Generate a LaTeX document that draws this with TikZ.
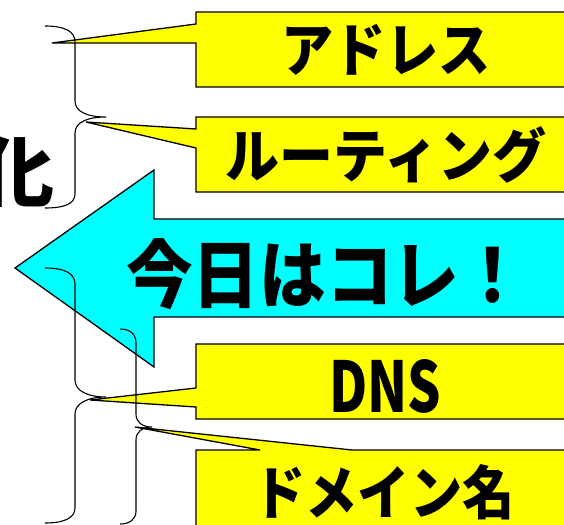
\documentclass[tikz,border=0pt]{standalone}
\usepackage{fontspec}
\usepackage{graphicx}
\newfontfamily\jp{Noto Sans CJK JP}
\definecolor{cyanfill}{RGB}{0,255,255}
\definecolor{yellowfill}{RGB}{255,255,0}
\tikzset{
  callout/.style={fill=yellowfill,draw=black,line width=1.3pt,line join=miter},
  bigarrow/.style={fill=cyanfill,draw=black,line width=1.3pt,line join=miter},
  bracepath/.style={draw=black,line width=1.1pt},
  jptext/.style={inner sep=0pt,font=\jp\bfseries},
}
\begin{document}
\begin{tikzpicture}[x=1pt,y=-1pt]
\useasboundingbox (0,0) rectangle (564,524);
\clip (0,0) rectangle (564,524);
% left cut-off text
\node[jptext,anchor=east] (ka) at (55,172) {\fontsize{76}{76}\selectfont 化};
% callout boxes
\path[callout] (196,12) -- (600,12) -- (600,87) -- (196,87) -- (196,43) -- (52,43) -- (196,24) -- cycle;
\path[callout] (196,117) -- (600,117) -- (600,192) -- (196,192) -- (196,148) -- (86,122) -- (196,129) -- cycle;
\path[callout] (196,344) -- (600,344) -- (600,419) -- (196,419) -- (196,407) -- (90,400) -- (196,388) -- cycle;
\path[callout] (196,450) -- (260,450) -- (135,427) -- (352,450) -- (600,450) -- (600,560) -- (196,560) -- cycle;
% cyan arrow
\path[bigarrow] (15,268) -- (154,170) -- (154,219) -- (600,219) -- (600,317) -- (154,317) -- (154,367) -- cycle;
% texts
\node[jptext] (addr) at (386,50) {\fontsize{58}{58}\selectfont\scalebox{0.9}[1]{アドレス}};
\node[jptext] (rout) at (386,155) {\fontsize{58}{58}\selectfont\scalebox{0.93}[1]{ルーティング}};
\node[jptext] (today) at (326,274) {\fontsize{74}{74}\selectfont\scalebox{0.9}[1]{今日はコレ！}};
\node[jptext] (dns) at (385,386) {\fontsize{70}{70}\selectfont\scalebox{0.75}[1]{DNS}};
\node[jptext] (dom) at (384,492) {\fontsize{58}{58}\selectfont\scalebox{0.9}[1]{ドメイン名}};
% braces
\path[bracepath] (45,26) .. controls (64,26) and (75,31) .. (75,42) -- (75,101) .. controls (75,112) and (88,117) .. (106,117)
  .. controls (88,117) and (75,122) .. (75,133) -- (75,194) .. controls (75,204) and (64,208) .. (45,208);
\path[bracepath] (45,268) .. controls (64,268) and (75,273) .. (75,284) -- (75,380) .. controls (75,391) and (88,397) .. (106,397)
  .. controls (88,397) and (75,403) .. (75,414) -- (75,508) .. controls (75,518) and (64,523) .. (45,523);
\path[bracepath] (120,329) .. controls (130,329) and (136,334) .. (136,343) -- (136,414) .. controls (136,422) and (142,427) .. (152,427)
  .. controls (142,427) and (136,432) .. (136,440) -- (136,511) .. controls (136,519) and (130,524) .. (120,524);
\end{tikzpicture}
\end{document}
